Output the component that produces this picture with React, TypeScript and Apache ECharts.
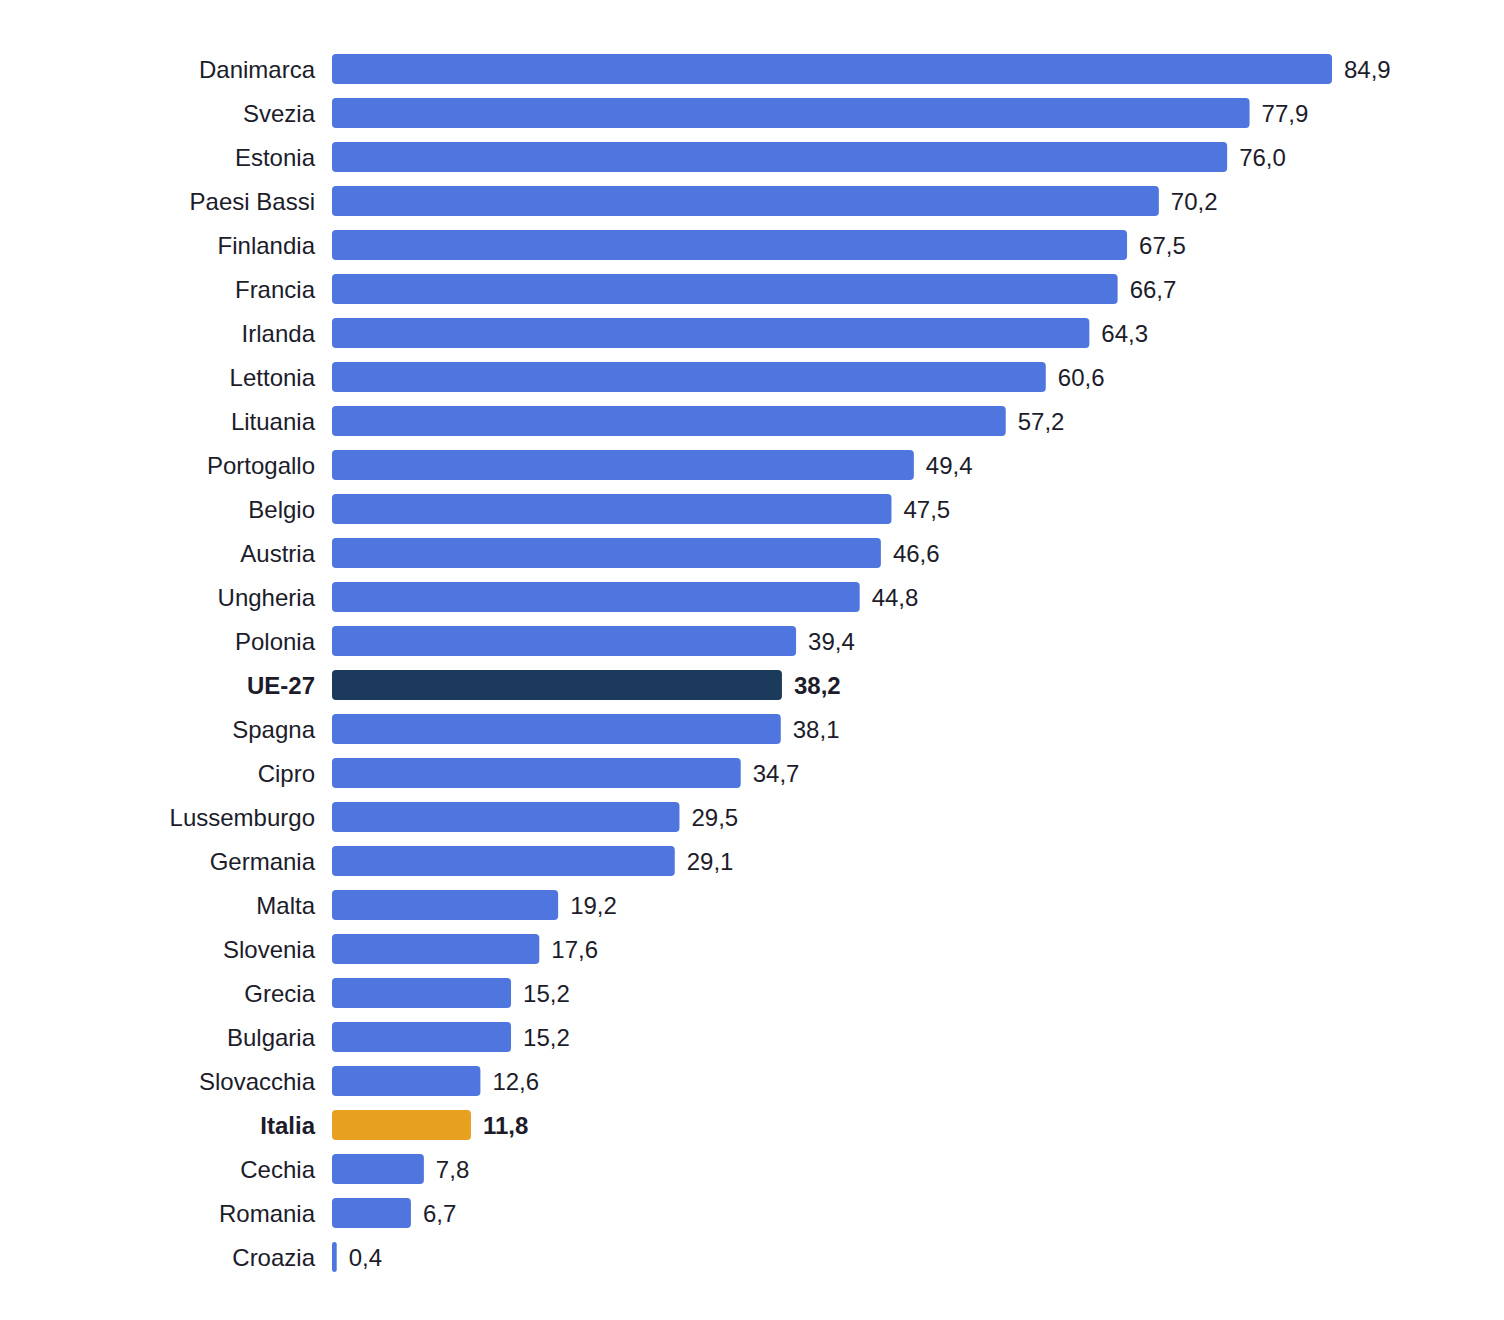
import { useEffect, useRef } from "react";
import * as echarts from "echarts";

const countries = [
  "Danimarca", "Svezia", "Estonia", "Paesi Bassi", "Finlandia", "Francia", "Irlanda",
  "Lettonia", "Lituania", "Portogallo", "Belgio", "Austria", "Ungheria", "Polonia",
  "UE-27", "Spagna", "Cipro", "Lussemburgo", "Germania", "Malta", "Slovenia",
  "Grecia", "Bulgaria", "Slovacchia", "Italia", "Cechia", "Romania", "Croazia",
];

const values = [
  84.9, 77.9, 76.0, 70.2, 67.5, 66.7, 64.3,
  60.6, 57.2, 49.4, 47.5, 46.6, 44.8, 39.4,
  38.2, 38.1, 34.7, 29.5, 29.1, 19.2, 17.6,
  15.2, 15.2, 12.6, 11.8, 7.8, 6.7, 0.4,
];

const highlighted: Record<string, string> = {
  "UE-27": "#1b3a5c",
  Italia: "#e8a020",
};

const BLUE = "#4f76df";
const TEXT = "#1c1c2b";
const FONT = "'Liberation Sans', Arial, Helvetica, sans-serif";

export default function App() {
  const chartRef = useRef<HTMLDivElement>(null);

  useEffect(() => {
    if (!chartRef.current) return;
    document.body.style.margin = "0";

    const chart = echarts.init(chartRef.current, null, { renderer: "svg" });

    const data = values.map((v, i) => {
      const name = countries[i];
      const special = highlighted[name];
      return {
        value: v,
        itemStyle: { color: special || BLUE },
        label: special ? { fontWeight: "bold" as const } : undefined,
      };
    });

    chart.setOption({
      animation: false,
      backgroundColor: "#ffffff",
      grid: {
        left: 332,
        right: 172,
        top: 47,
        bottom: 41,
        containLabel: false,
      },
      xAxis: {
        type: "value",
        min: 0,
        max: 84.9,
        show: false,
      },
      yAxis: {
        type: "category",
        data: countries,
        inverse: true,
        axisLine: { show: false },
        axisTick: { show: false },
        splitLine: { show: false },
        axisLabel: {
          margin: 17,
          fontSize: 24,
          fontFamily: FONT,
          color: TEXT,
          formatter: (value: string) =>
            highlighted[value] ? `{b|${value}}` : value,
          rich: {
            b: {
              fontSize: 24,
              fontWeight: "bold",
              fontFamily: FONT,
              color: TEXT,
            },
          },
        },
      },
      series: [
        {
          type: "bar",
          data,
          barWidth: 30,
          itemStyle: { borderRadius: 4 },
          label: {
            show: true,
            position: "right",
            distance: 12,
            fontSize: 24,
            fontFamily: FONT,
            color: TEXT,
            // eslint-disable-next-line @typescript-eslint/no-explicit-any
            formatter: (p: any) => Number(p.value).toFixed(1).replace(".", ","),
          },
        },
      ],
    });

    return () => {
      chart.dispose();
    };
  }, []);

  return <div ref={chartRef} style={{ width: 1504, height: 1320 }} />;
}
